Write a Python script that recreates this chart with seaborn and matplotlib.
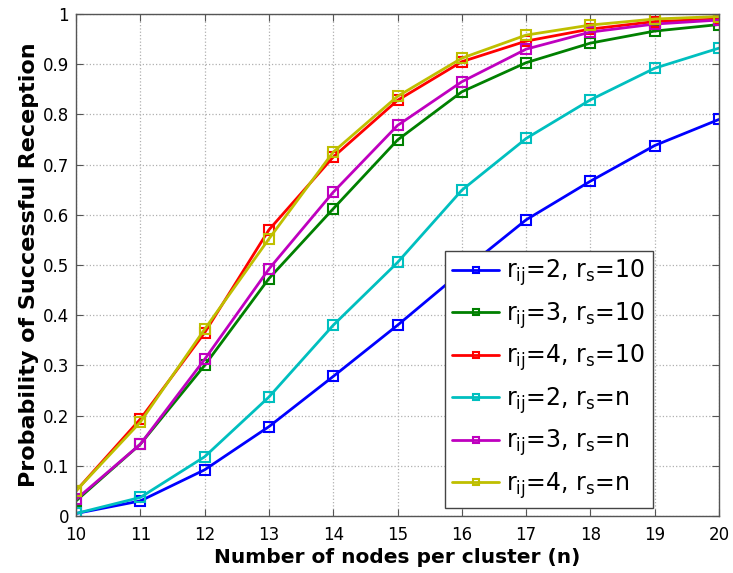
import matplotlib
matplotlib.use("Agg")
import matplotlib.pyplot as plt
import seaborn as sns
import pandas as pd

n_nodes = [10, 11, 12, 13, 14, 15, 16, 17, 18, 19, 20]
rij2_rs10 = [0.005, 0.030, 0.092, 0.178, 0.278, 0.380, 0.487, 0.590, 0.667, 0.738, 0.790]
rij3_rs10 = [0.030, 0.143, 0.300, 0.473, 0.612, 0.749, 0.845, 0.903, 0.942, 0.966, 0.979]
rij4_rs10 = [0.050, 0.193, 0.365, 0.570, 0.715, 0.828, 0.905, 0.946, 0.970, 0.985, 0.990]
rij2_rsn = [0.005, 0.037, 0.118, 0.237, 0.380, 0.505, 0.649, 0.752, 0.829, 0.892, 0.932]
rij3_rsn = [0.033, 0.143, 0.312, 0.492, 0.645, 0.778, 0.865, 0.930, 0.964, 0.980, 0.988]
rij4_rsn = [0.050, 0.187, 0.372, 0.552, 0.725, 0.836, 0.912, 0.958, 0.978, 0.990, 0.995]

labels = [r"$\mathregular{r_{ij}}$=2, $\mathregular{r_s}$=10",
          r"$\mathregular{r_{ij}}$=3, $\mathregular{r_s}$=10",
          r"$\mathregular{r_{ij}}$=4, $\mathregular{r_s}$=10",
          r"$\mathregular{r_{ij}}$=2, $\mathregular{r_s}$=n",
          r"$\mathregular{r_{ij}}$=3, $\mathregular{r_s}$=n",
          r"$\mathregular{r_{ij}}$=4, $\mathregular{r_s}$=n"]
series = [rij2_rs10, rij3_rs10, rij4_rs10, rij2_rsn, rij3_rsn, rij4_rsn]
colors = ["#0000ff", "#008000", "#ff0000", "#00bfbf", "#bf00bf", "#bfbf00"]

sns.set_style("white")
plt.rcParams["font.family"] = ["DejaVu Sans"]
plt.rcParams["text.color"] = "black"

fig = plt.figure(figsize=(7.33, 5.73), dpi=100)
ax = fig.add_axes([76/733, 1-516/573, (719-76)/733, (516-14)/573])

for lab, vals, col in zip(labels, series, colors):
    df = pd.DataFrame({"n": n_nodes, "p": vals})
    sns.lineplot(data=df, x="n", y="p", ax=ax, color=col, marker="s",
                 markersize=7, mfc="none", mec=col, mew=1.5, lw=2.0, label=lab)

ax.set_xlim(10, 20)
ax.set_ylim(0, 1)
ax.set_xticks(range(10, 21))
ax.set_yticks([i/10 for i in range(11)])
ax.set_yticklabels(["0"] + [f"0.{i}" for i in range(1, 10)] + ["1"])
ax.grid(True, color="#b0b0b0", linestyle=":", linewidth=0.9)
ax.tick_params(direction="in", length=5, labelsize=12, top=True, right=True,
               bottom=True, left=True, color="#555555", labelcolor="black")
ax.tick_params(axis="x", pad=7)
ax.tick_params(axis="y", pad=5)
for s in ax.spines.values():
    s.set_color("#555555")
    s.set_linewidth(1.0)
ax.set_xlabel("Number of nodes per cluster (n)", fontsize=14.5, fontweight="bold",
              labelpad=3, color="black")
ax.set_ylabel("Probability of Successful Reception", fontsize=16, fontweight="bold",
              labelpad=3, color="black")

leg = ax.legend(loc="lower left", bbox_to_anchor=(0.574, 0.016), fontsize=17,
                frameon=True, fancybox=False, edgecolor="#444444", framealpha=1,
                handlelength=2.0, handletextpad=0.3, labelspacing=0.5,
                borderpad=0.3, borderaxespad=0, markerscale=0.7)
leg.get_frame().set_linewidth(1.0)

fig.savefig("out.png", dpi=100)
